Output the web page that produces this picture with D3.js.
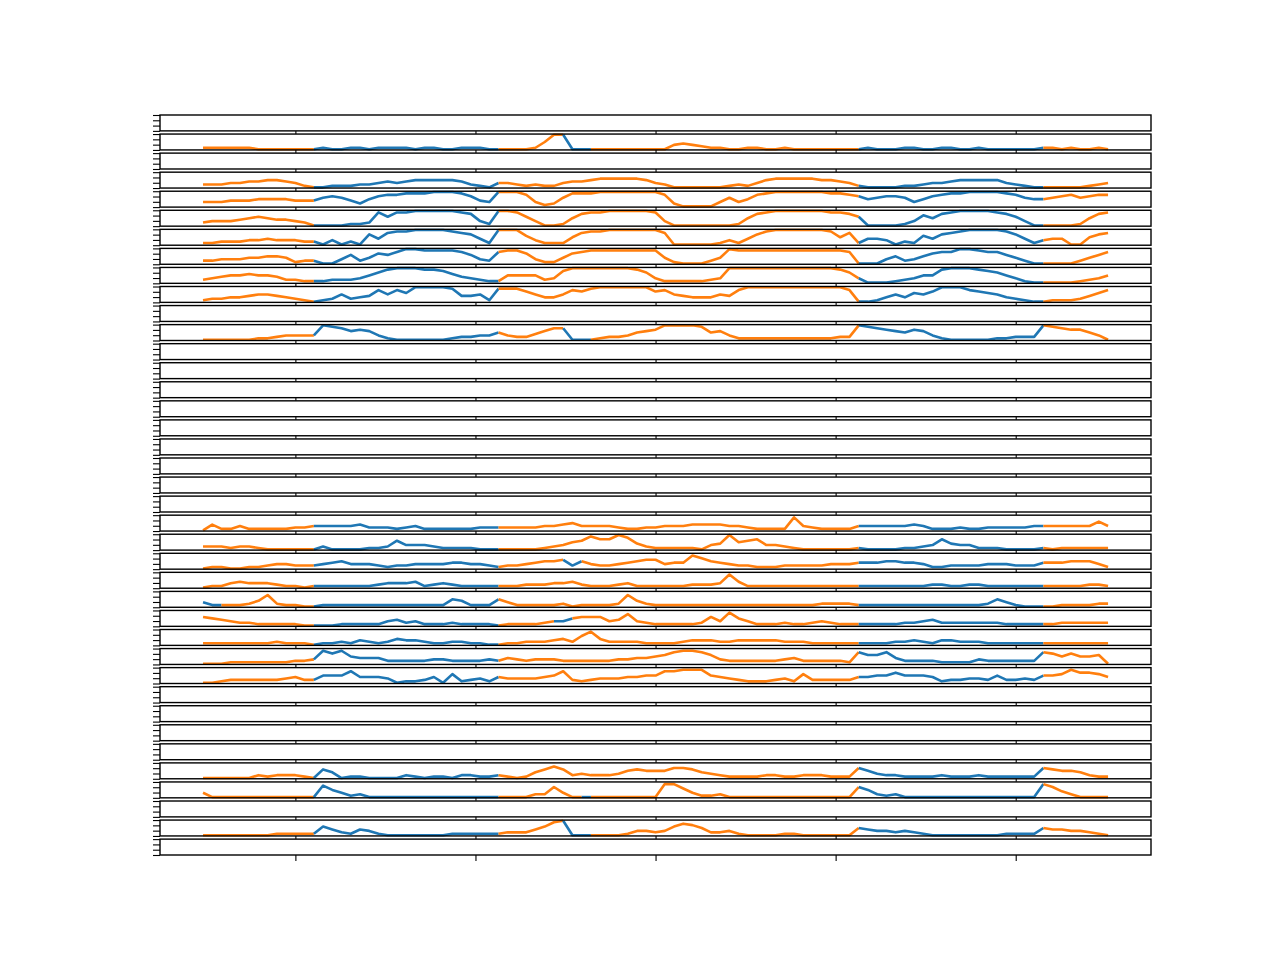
<!DOCTYPE html>
<html><head><meta charset="utf-8">
<script src="https://cdn.jsdelivr.net/npm/d3@7"></script>
<style>body{margin:0;background:#fff}</style>
</head><body>
<svg id="c" width="1280" height="960"></svg>
<script>
// ---- data ----
const panelCount = 39;
const pointCount = 99;
const xTicks = [10, 29.5, 49, 68.5, 88];
const blueRuns = [[12, 31], [71, 90]];
const series = {
  1: [1,1,1,1,1,1,0,0,0,0,0,0, 0,1,0,0,1,1,0,1,1,1,1,0,1,1,0,0,1,1,1,0, 0,0,0,0,1,5,10,10, 0,0,0,0,0,0,0,0,0,0, 0,3,4,3,2,1,1,0,0,1,1,0,0,1,0,0,0,0,0,0,0, 0,1,0,0,0,1,1,0,0,1,1,0,0,1,0,0,0,0,0,0, 1,1,0,1,0,0,1,0],
  3: [2,2,2,3,3,4,4,5,5,4,3,1, 0,0,1,1,1,2,2,3,4,3,4,5,5,5,5,5,4,2,1,0, 3,3,2,1,2,1,1,3,4,4,5,6,6,6,6,6,5,3,2,0,0,0,0,0,0,1,2,1,3,5,6,6,6,6,6,5,5,4,3, 1,0,0,0,0,1,1,2,3,3,4,5,5,5,5,5,3,2,1,0, 0,0,0,0,0,1,2,3],
  4: [3,3,3,4,4,4,5,5,5,5,4,4, 4,6,7,6,4,2,5,7,8,8,9,9,9,10,10,10,9,7,4,3, 10,10,10,8,3,1,2,6,9,9,9,10,10,10,10,10,10,10,8,2,0,0,0,0,3,6,3,5,8,9,10,10,10,10,10,10,9,9,8, 7,5,6,7,7,6,3,5,7,8,9,9,10,10,10,10,9,8,6,5, 5,6,7,8,6,7,8,8],
  5: [2,3,3,3,4,5,6,5,4,4,3,2, 0,0,0,0,1,1,2,9,6,9,9,10,10,10,10,10,9,8,3,1, 10,10,9,6,3,0,0,1,5,8,9,9,10,10,10,10,10,9,3,0,0,0,0,0,0,0,1,5,8,9,10,10,10,10,10,10,9,9,8, 6,0,0,0,0,1,3,7,5,8,9,10,10,10,10,9,8,6,3,0, 0,0,0,0,1,5,8,9],
  6: [1,1,2,2,2,3,3,4,3,3,3,2, 2,0,3,0,2,0,7,4,8,9,9,10,10,10,10,9,8,7,4,1, 10,10,10,6,3,1,1,1,5,8,9,9,10,10,10,10,10,10,8,0,0,0,0,0,1,3,1,4,7,9,10,10,10,10,10,10,9,5,8, 1,4,4,3,0,2,1,6,4,7,8,9,10,10,10,10,9,7,4,1, 3,4,4,0,0,5,7,8],
  7: [2,2,3,3,3,4,4,5,5,4,1,2, 2,0,0,3,6,2,4,7,6,8,10,10,9,9,9,9,8,6,3,2, 8,9,9,7,3,1,1,4,7,8,9,9,9,9,9,9,9,9, 4,1,0,0,0,2,4,10,9,9,9,9,9,9,9,9,9,9,9,9,8, 0,0,0,3,5,2,3,5,7,8,8,10,10,9,8,8,6,4,2,0, 0,0,0,0,2,4,6,8],
  8: [2,3,4,5,5,6,5,5,4,2,2,1, 1,1,2,2,2,3,5,7,9,10,10,10,9,9,8,6,4,3,2,1, 1,5,5,5,5,2,3,8,10,10,10,10,10,10,10,9,7,3, 1,1,1,1,1,2,3,10,10,10,10,10,10,10,10,10,10,10,10,9,7, 3,0,0,0,1,2,3,5,5,9,10,10,10,9,8,7,5,3,1,0, 0,0,0,0,1,2,3,5],
  9: [1,2,2,3,3,4,5,5,4,3,2,1, 0,1,2,5,2,3,4,8,5,8,6,10,10,10,10,9,4,4,5,1, 9,9,9,7,5,3,3,5,8,7,9,10,10,10,10,10,10,7,8,5,4,3,3,3,5,4,8,10,10,10,10,10,10,10,10,10,10,10,8, 0,0,1,3,5,3,6,5,7,10,10,10,8,7,6,5,3,2,1,0, 0,1,1,1,2,4,6,8],
  11: [0,0,0,0,0,0,1,1,2,3,3,3, 3,10,9,8,6,7,6,3,1,0,0,0,0,0,0,1,2,2,3,3, 5,3,2,2,4,6,8,8,0,0,0,1,2,2,3,5,6,7,10,10,10,10,9,5,6,3,1,1,1,1,1,1,1,1,1,1,1,2,2, 10,9,8,7,6,5,7,6,3,1,0,0,0,0,0,1,1,2,2,2, 10,9,8,7,7,5,3,0],
  21: [0,4,1,1,3,1,1,1,1,1,2,2, 3,3,3,3,3,4,2,2,2,1,2,3,1,1,1,1,1,1,2,2, 2,2,2,2,2,3,3,4,5,3,3,3,3,2,1,1,2,2,3,3,3,4,4,4,4,3,3,2,1,1,1,1,9,3,2,1,1,1,1, 3,3,3,3,3,3,4,3,1,1,1,2,1,1,2,2,2,2,2,3, 3,3,3,3,3,3,6,3],
  22: [2,2,2,1,2,2,1,0,0,0,0,0, 0,2,0,0,0,0,1,1,2,6,3,3,3,2,1,1,1,1,0,0, 0,0,0,0,0,1,2,3,5,6,9,7,7,10,8,4,2,1,1,1,1,1,0,3,4,10,5,6,7,3,3,2,1,0,0,0,0,0,0, 1,0,0,0,0,1,1,2,3,7,4,3,3,1,1,1,0,0,0,0, 1,0,1,1,1,1,1,1],
  23: [0,1,1,0,0,1,1,2,3,3,2,2, 2,3,4,5,3,3,3,2,1,2,2,3,3,3,3,4,4,3,3,2, 1,2,2,3,4,5,5,6,2,5,3,2,2,3,4,5,6,6,3,4,4,9,7,5,4,3,2,2,1,1,1,2,2,2,2,2,3,3,3, 4,4,4,5,5,4,4,3,1,1,2,2,2,2,3,3,3,2,2,2, 4,4,4,5,5,5,3,1],
  24: [0,1,1,3,4,3,3,3,2,1,1,0, 1,1,1,1,1,1,1,2,3,3,3,4,1,2,3,2,1,1,1,1, 1,1,1,2,2,2,3,3,4,2,1,1,1,2,3,1,1,1,1,1,1,2,2,2,3,9,4,1,1,1,1,1,1,1,1,1,1,1,1, 1,1,1,1,1,1,1,1,2,2,1,1,2,2,1,1,1,1,1,1, 1,1,1,1,1,2,2,1],
  25: [3,1,1,1,1,2,4,8,2,1,1,0, 0,1,1,1,1,1,1,1,1,1,1,1,1,1,1,5,4,1,1,1, 5,3,1,1,1,1,1,2,0,1,1,1,1,2,8,4,2,1,1,1,1,1,1,1,1,1,1,1,1,1,1,1,1,1,1,2,2,2,2, 1,1,1,1,1,1,1,1,1,1,1,1,1,1,2,5,3,1,0,0, 0,0,1,1,1,1,2,2],
  26: [6,5,4,3,2,2,1,1,1,1,1,0, 0,0,0,1,1,1,1,1,3,4,2,3,1,1,1,2,1,1,1,1, 0,1,1,1,1,2,3,3,5,6,6,6,3,4,8,3,2,1,1,1,1,1,2,6,3,9,5,3,1,1,1,2,1,1,2,3,2,1,1, 1,1,1,1,1,2,2,3,4,2,2,2,2,2,2,2,1,1,1,1, 1,1,2,2,2,2,2,2],
  27: [1,1,1,1,1,1,1,1,2,1,1,1, 0,1,1,2,1,3,2,1,2,4,3,3,2,1,1,2,2,1,1,0, 0,1,1,2,2,2,3,4,2,6,9,4,2,2,2,2,1,1,1,1,2,3,3,3,2,2,3,3,3,3,3,2,2,2,1,1,1,1,1, 1,1,1,1,2,2,3,2,1,3,3,2,2,2,1,1,1,1,1,1, 1,1,1,1,1,1,1,1],
  28: [0,0,0,1,1,1,1,1,1,1,2,2, 3,9,7,9,5,4,4,4,2,2,2,2,2,3,3,2,2,2,2,3, 2,4,3,2,3,3,3,2,2,2,2,2,2,3,3,4,4,5,6,8,9,9,8,6,3,2,2,2,2,2,2,3,4,2,2,2,2,2,1, 8,6,6,8,4,2,2,2,2,1,1,1,1,3,2,2,2,2,2,2, 8,7,5,7,5,5,6,0],
  29: [0,0,1,2,2,2,2,2,2,3,4,2, 2,5,5,5,8,4,4,4,3,0,1,1,2,4,0,6,1,2,3,1, 4,3,3,3,3,4,5,8,2,1,2,3,3,3,4,4,5,5,8,8,9,9,9,5,4,3,2,1,1,1,2,3,1,6,2,2,2,2,2, 4,4,5,5,7,5,5,5,4,1,2,2,3,3,2,5,2,2,3,2, 5,5,6,9,7,7,6,4],
  34: [0,0,0,0,0,0,2,1,2,2,2,1, 0,6,4,0,1,1,0,0,0,0,2,1,0,1,1,0,2,2,1,1, 2,1,0,1,4,6,8,6,2,3,2,2,2,3,5,6,5,5,5,7,7,6,4,3,2,1,1,1,1,2,2,1,1,2,2,2,1,1,1, 7,5,3,2,2,1,1,1,1,2,1,1,1,2,1,1,1,1,1,1, 7,6,5,5,4,2,1,1],
  35: [3,0,0,0,0,0,0,0,0,0,0,0, 0,8,5,3,1,2,0,0,0,0,0,0,0,0,0,0,0,0,0,0, 0,0,0,0,2,2,7,3,0,0,0,0,0,0,0,0,0,0,9,9,6,3,1,1,2,0,0,0,0,0,0,0,0,0,0,0,0,0,0, 7,5,2,1,2,0,0,0,0,0,0,0,0,0,0,0,0,0,0,0, 9,7,4,2,0,0,0,0],
  37: [0,0,0,0,0,0,0,0,1,1,1,1, 1,6,4,2,1,4,3,1,0,0,0,0,0,0,0,1,1,1,1,1, 1,2,2,2,4,6,9,10,0,0,0,0,0,0,1,3,3,2,3,6,8,7,5,2,2,3,1,0,0,0,0,1,1,0,0,0,0,0,0, 5,4,3,3,2,3,2,1,0,0,0,0,0,0,0,0,1,1,1,1, 5,4,4,3,3,2,1,0]
};
const extraBlue = {1: [[39, 41]], 11: [[39, 41]], 37: [[39, 41]], 23: [[39, 40]], 25: [[0, 1]], 26: [[38, 39]], 35: [[41, 41]]};

// ---- drawing ----
const svg = d3.select("#c");
const left = 160, right = 1151, top0 = 115, bottom = 855;
const panelH = (bottom - top0) / (panelCount + 0.2 * (panelCount - 1));
const step = panelH * 1.2;
const x = d3.scaleLinear().domain([-4.66, 102.65]).range([left, right]);
const BLUE = "#1f77b4", ORANGE = "#ff7f0e";

function isBlue(p, i) {
  const runs = blueRuns.concat(extraBlue[p] || []);
  return runs.some(r => i >= r[0] && i <= r[1]);
}

for (let p = 0; p < panelCount; p++) {
  const t = top0 + p * step;
  const y = d3.scaleLinear().domain([-0.5, 10.5]).range([t + panelH, t]);
  const g = svg.append("g");
  const vals = series[p];
  if (vals) {
    const line = d3.line().x(d => x(d[0])).y(d => y(d[1]));
    let start = 0;
    for (let i = 0; i < vals.length - 1; i++) {
      const c = isBlue(p, i);
      const nextSame = i + 1 < vals.length - 1 && isBlue(p, i + 1) === c;
      if (!nextSame) {
        const pts = [];
        for (let k = start; k <= i + 1; k++) pts.push([k, vals[k]]);
        g.append("path").attr("d", line(pts)).attr("fill", "none")
          .attr("stroke", c ? BLUE : ORANGE).attr("stroke-width", 2.6)
          .attr("stroke-linejoin", "round").attr("stroke-linecap", "butt");
        start = i + 1;
      }
    }
  }
  const yt = d3.axisLeft(d3.scaleLinear().domain([0, 3]).range([t + panelH, t]))
    .tickValues([0, 1, 2, 3]).tickSize(7).tickFormat("");
  g.append("g").attr("transform", `translate(${left},0)`).call(yt)
    .call(s => s.select(".domain").remove())
    .selectAll("line").attr("stroke", "#000").attr("stroke-width", 1.1);
  const last = p === panelCount - 1;
  const xa = d3.axisBottom(x).tickValues(xTicks).tickSize(last ? 6 : 3).tickFormat("");
  g.append("g").attr("transform", `translate(0,${t + panelH})`).call(xa)
    .call(s => s.select(".domain").remove())
    .selectAll("line").attr("stroke", "#000").attr("stroke-width", 1.1);
  g.append("rect").attr("x", left).attr("y", t).attr("width", right - left)
    .attr("height", panelH).attr("fill", "none").attr("stroke", "#000").attr("stroke-width", 1.4);
}
</script>
</body></html>
